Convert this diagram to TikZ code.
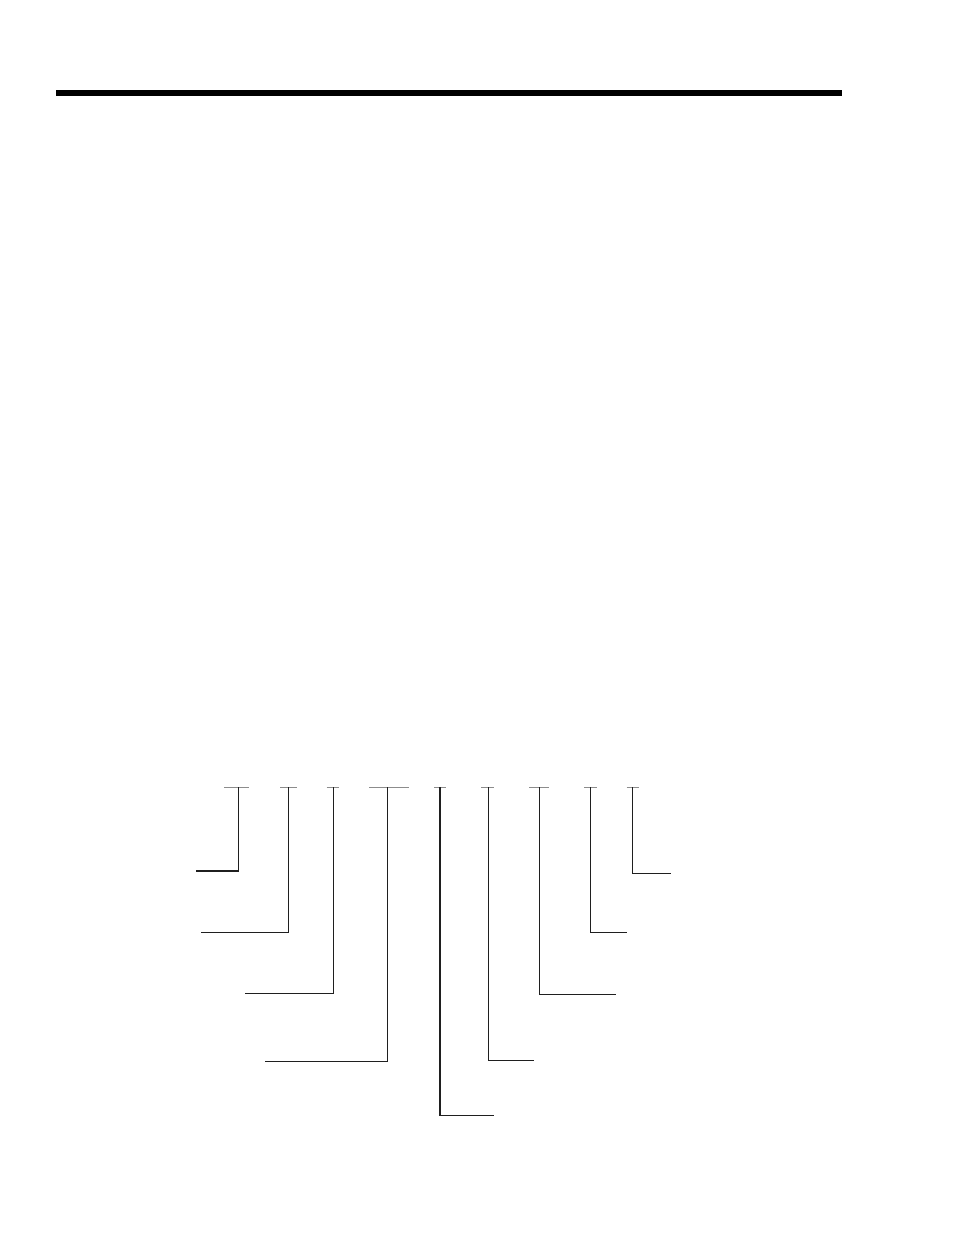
\documentclass[tikz,border=0pt]{standalone}
\begin{document}
\begin{tikzpicture}[x=1pt,y=-1pt,
  tick/.style={draw=black!45,line width=1.3pt},
  leader/.style={draw=black!88,line width=1.3pt},
  bar/.style={fill=black}]
\useasboundingbox (0,0) rectangle (954,1235);
\fill[bar] (56,90) rectangle (842,96);
% tick marks
\foreach \a/\b in {224.3/249.3, 280/296.7, 326.7/338.7, 369/409, 434/446, 481/494, 529/549.3, 584/596.7, 626.7/639.3}
  \draw[tick] (\a,787.3) -- (\b,787.3);
% named corners
\coordinate (t1) at (238.3,787.3); \coordinate (e1) at (196,871);
\coordinate (t2) at (288.3,787.3); \coordinate (e2) at (200.7,932.7);
\coordinate (t3) at (333.7,787.3); \coordinate (e3) at (245,993.7);
\coordinate (t4) at (387.7,787.3); \coordinate (e4) at (265,1061.7);
\coordinate (t5) at (440,787.3);   \coordinate (e5) at (493.7,1115.7);
\coordinate (t6) at (488.7,787.3); \coordinate (e6) at (534.3,1060.7);
\coordinate (t7) at (539.3,787.3); \coordinate (e7) at (616.3,994.3);
\coordinate (t8) at (590.7,787.3); \coordinate (e8) at (627,932.7);
\coordinate (t9) at (632.7,787.3); \coordinate (e9) at (670.7,873.3);
\foreach \i in {1,...,9}
  \draw[leader,line join=miter] (t\i) |- (e\i);
\end{tikzpicture}
\end{document}
